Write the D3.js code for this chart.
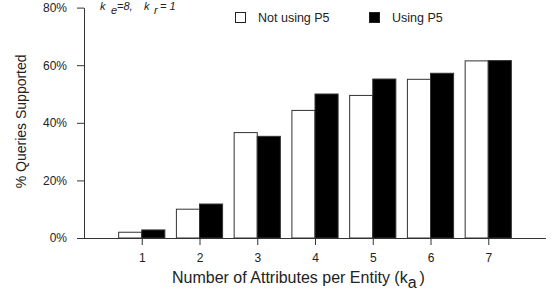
<!DOCTYPE html>
<html>
<head>
<meta charset="utf-8">
<style>
body { margin: 0; background: #fff; }
svg { display: block; font-family: "Liberation Sans", Arial, sans-serif; }
.axis path, .axis line { stroke: #333; stroke-width: 1px; }
.axis text { font-size: 12px; fill: #222; }
</style>
</head>
<body>
<svg id="chart" width="555" height="296"></svg>
<script src="https://cdnjs.cloudflare.com/ajax/libs/d3/7.8.5/d3.min.js"></script>
<script>
const categories = [1, 2, 3, 4, 5, 6, 7];
const notUsingP5 = [2.0, 10.0, 36.6, 44.3, 49.5, 55.1, 61.5];
const usingP5 = [2.8, 11.8, 35.3, 50.0, 55.2, 57.2, 61.6];
const yTicks = [0, 20, 40, 60, 80];

const svg = d3.select("#chart");
const plotLeft = 84, plotRight = 546, plotTop = 7.6, plotBottom = 238;

const x = d3.scaleLinear().domain([0, 8]).range([plotLeft, plotRight]);
const y = d3.scaleLinear().domain([0, 80]).range([plotBottom, plotTop]);
const bw = 0.4;

// bars
const g = svg.append("g");
categories.forEach((c, i) => {
  g.append("rect")
    .attr("x", x(c - bw)).attr("y", y(notUsingP5[i]))
    .attr("width", x(c) - x(c - bw)).attr("height", y(0) - y(notUsingP5[i]))
    .attr("fill", "#fff").attr("stroke", "#333").attr("stroke-width", 1);
  g.append("rect")
    .attr("x", x(c)).attr("y", y(usingP5[i]))
    .attr("width", x(c + bw) - x(c)).attr("height", y(0) - y(usingP5[i]))
    .attr("fill", "#000").attr("stroke", "#333").attr("stroke-width", 1);
});

// axes
svg.append("g").attr("class", "axis")
  .attr("transform", `translate(0,${plotBottom})`)
  .call(d3.axisBottom(x).tickValues(categories).tickSize(7).tickSizeOuter(0).tickPadding(8))
  .call(a => a.select(".domain").attr("d", `M${plotLeft},0.5H${plotRight}`));

svg.append("g").attr("class", "axis")
  .attr("transform", `translate(${plotLeft},0)`)
  .call(d3.axisLeft(y).tickValues(yTicks).tickFormat(d => d + "%").tickSize(7).tickSizeOuter(0).tickPadding(10));

// axis titles
svg.append("text")
  .attr("transform", `translate(26,${(46.7 + 196) / 2}) rotate(-90)`)
  .attr("text-anchor", "middle").attr("font-size", 14).attr("fill", "#222")
  .text("% Queries Supported");

const xt = svg.append("text")
  .attr("x", 172).attr("y", 283)
  .attr("font-size", 16).attr("fill", "#222");
xt.append("tspan").text("Number of Attributes per Entity (k");
xt.append("tspan").attr("dy", 5).text("a");
xt.append("tspan").attr("dy", -5).attr("dx", 3).text(")");

// annotation
const ann = svg.append("text")
  .attr("y", 10)
  .attr("font-size", 11).attr("font-style", "italic").attr("fill", "#222");
ann.append("tspan").attr("x", 100).text("k");
ann.append("tspan").attr("x", 111).attr("dy", 4).text("e");
ann.append("tspan").attr("x", 117).attr("dy", -4).text("=8,");
ann.append("tspan").attr("x", 144).text("k");
ann.append("tspan").attr("x", 154).attr("dy", 4).text("r");
ann.append("tspan").attr("x", 160).attr("dy", -4).text("= 1");

// legend
const legend = [
  { label: "Not using P5", fill: "#fff", x: 235 },
  { label: "Using P5", fill: "#000", x: 369 }
];
legend.forEach(l => {
  svg.append("rect").attr("x", l.x + 0.5).attr("y", 12.5).attr("width", 10).attr("height", 10)
    .attr("fill", l.fill).attr("stroke", "#222").attr("stroke-width", 1);
  svg.append("text").attr("x", l.x + 23).attr("y", 22)
    .attr("font-size", 12.5).attr("fill", "#222").text(l.label);
});
</script>
</body>
</html>
